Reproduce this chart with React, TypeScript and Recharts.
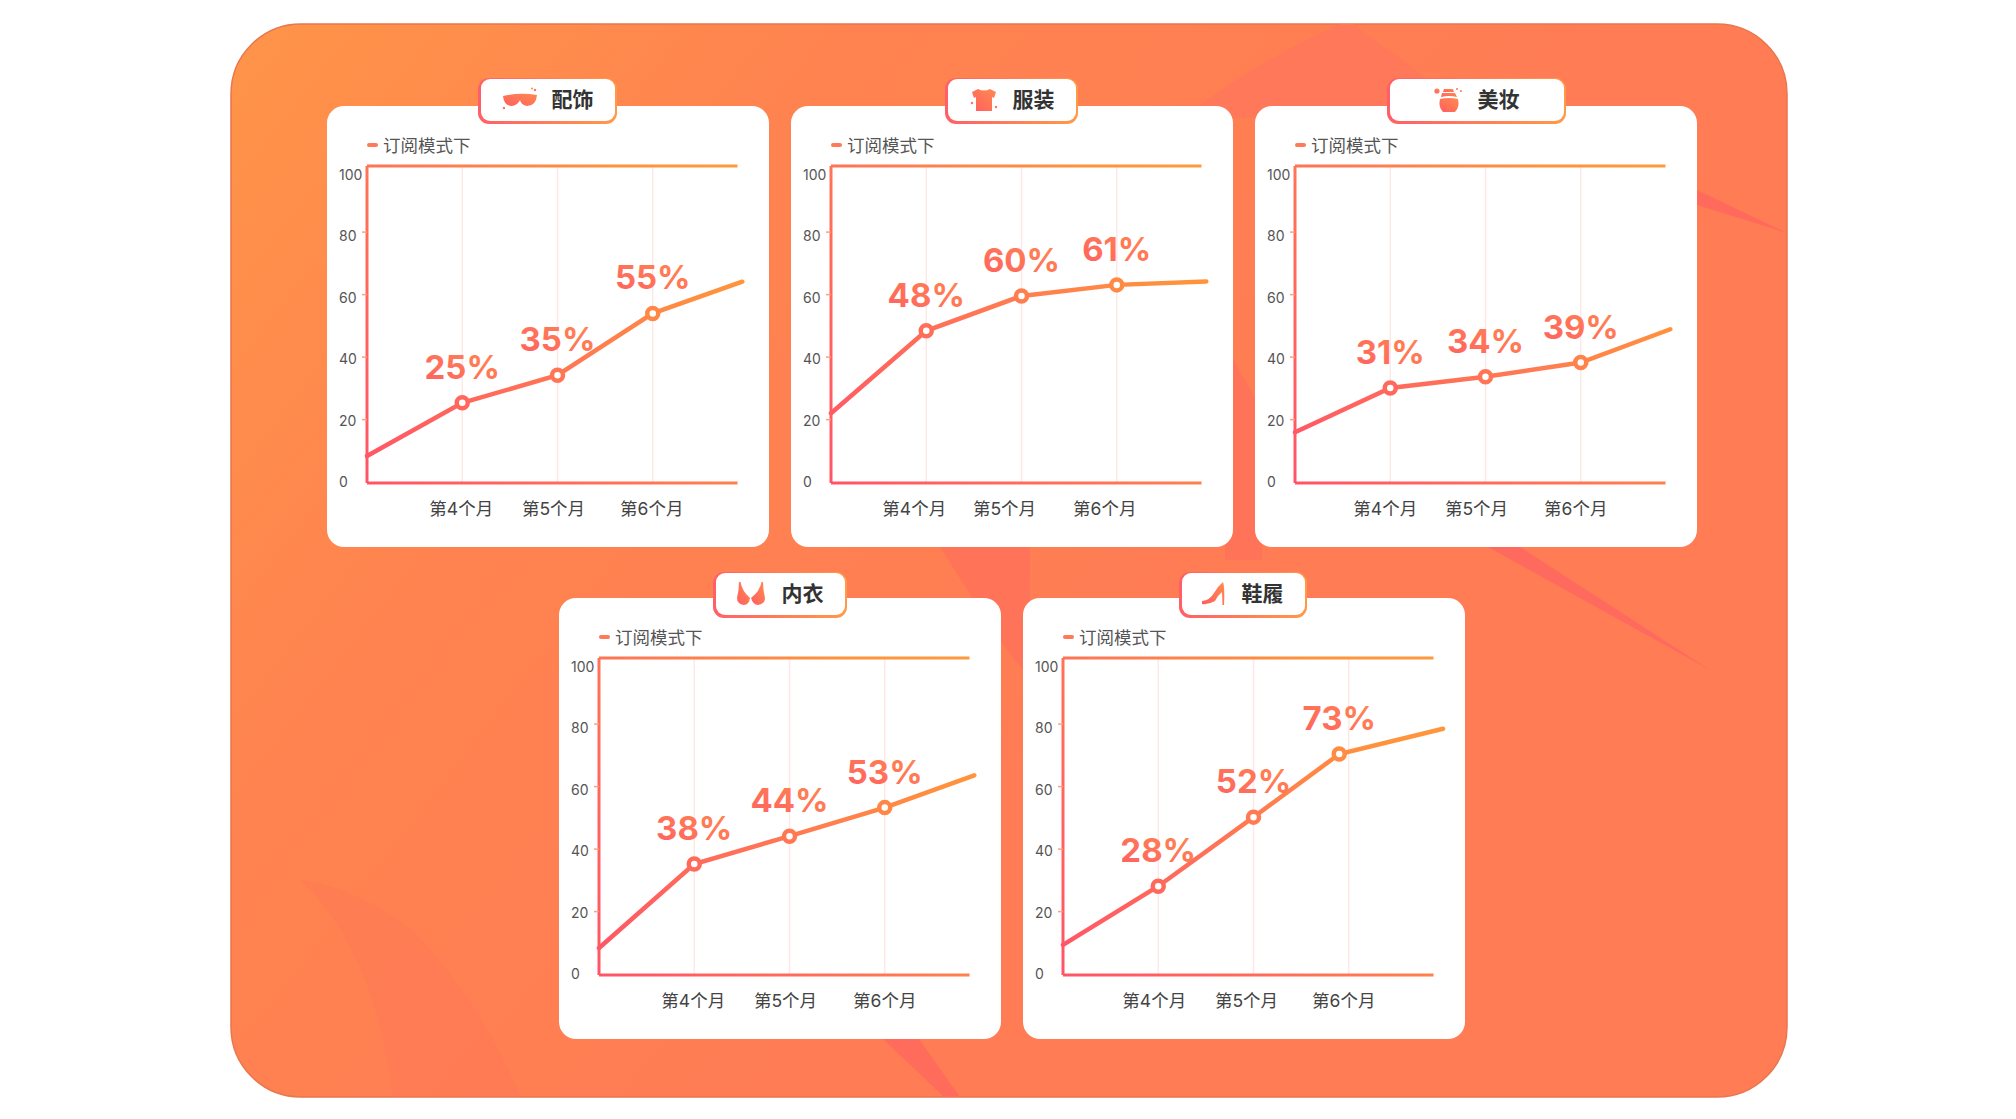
import React from 'react'
import { LineChart, Line, XAxis, YAxis, ReferenceLine, Legend, LabelList } from 'recharts'

const FONT = "Inter, 'Noto Sans CJK SC', sans-serif"
const CJK_FONT = "'Noto Sans CJK SC', sans-serif"

const X_POSITIONS = [0, 1, 2, 3, 3.94]
const SHOES_X_POSITIONS = [0, 1, 2, 2.9, 3.99]
const X_DOMAIN_MAX = 4
const X_TICKS = [1, 2, 3]
const MONTHS = ['第4个月', '第5个月', '第6个月']
const Y_TICKS = [0, 20, 40, 60, 80, 100]
const FRAME_END = 3.89
const SERIES_NAME = '订阅模式下'

const accessoriesValues = [8.5, 25.3, 34, 53.5, 63.5]
const accessoriesLabels = ['25%', '35%', '55%']
const clothingValues = [22, 48, 59, 62.5, 63.6]
const clothingLabels = ['48%', '60%', '61%']
const beautyValues = [16, 30, 33.5, 38, 48.5]
const beautyLabels = ['31%', '34%', '39%']
const underwearValues = [8.5, 35, 43.8, 52.8, 63]
const underwearLabels = ['38%', '44%', '53%']
const shoesValues = [9.5, 28, 49.8, 69.7, 77.7]
const shoesLabels = ['28%', '52%', '73%']

function buildRows(xs: number[], values: number[], labels: string[]) {
  return values.map((v, i) => ({ x: xs[i], value: v, label: labels[i - 1] }))
}

const CARD_W = 442
const CARD_H = 441

function YTick({ x, y, payload }: any) {
  const v = payload.value
  return (
    <g>
      {v > 0 && v < 100 ? (
        <line x1={x + 3} x2={x + 8} y1={y + (v - 20) * 0.045} y2={y + (v - 20) * 0.045} stroke="#ff9f78" strokeWidth={1.5} />
      ) : null}
      <text x={12} y={y + v * 0.1 - 1} dy={5} textAnchor="start" fontSize={14} fontFamily={FONT} fill="#555">{v}</text>
    </g>
  )
}

function makeXTick(shifts: number[]) {
  return function XTick({ x, y, payload, index }: any) {
    return (
      <text x={x + shifts[index]} y={y} dy={24} textAnchor="middle" fontSize={17.5} fontFamily={FONT} fill="#444">
        {MONTHS[payload.value - 1]}
      </text>
    )
  }
}

function LegendBox() {
  return (
    <div style={{ display: 'flex', alignItems: 'center', fontFamily: CJK_FONT, fontSize: 17.5, color: '#555', lineHeight: '24px' }}>
      <span style={{ display: 'inline-block', width: 11, height: 3.5, borderRadius: 2, background: '#ff7a58', marginRight: 5 }} />
      {SERIES_NAME}
    </div>
  )
}

interface PanelProps {
  id: string
  left: number
  top: number
  xs: number[]
  values: number[]
  labels: string[]
  shifts: number[]
}

function Panel({ id, left, top, xs, values, labels, shifts }: PanelProps) {
  const rows = buildRows(xs, values, labels)
  const stroke = `url(#line-${id})`
  return (
    <div style={{ position: 'absolute', left, top, width: CARD_W, height: CARD_H, background: '#fff', borderRadius: 17 }}>
      <LineChart width={CARD_W} height={CARD_H} data={rows} margin={{ top: 60, right: 21, bottom: 34, left: 10 }}>
        <defs>
          <linearGradient id={`line-${id}`} gradientUnits="userSpaceOnUse" x1={40} y1={377} x2={416} y2={60}>
            <stop offset="0" stopColor="#ff5468" />
            <stop offset="0.5" stopColor="#ff7a52" />
            <stop offset="0.8" stopColor="#ff923c" />
            <stop offset="1" stopColor="#ff9a40" />
          </linearGradient>
          <linearGradient id={`text-${id}`} x1="0" y1="1" x2="1" y2="0">
            <stop offset="0" stopColor="#ff5f62" />
            <stop offset="1" stopColor="#ff8a4e" />
          </linearGradient>
        </defs>
        <XAxis type="number" dataKey="x" domain={[0, X_DOMAIN_MAX]} ticks={X_TICKS} height={30} axisLine={false} tickLine={false} tick={makeXTick(shifts)} />
        <YAxis type="number" domain={[0, 100]} ticks={Y_TICKS} width={30} axisLine={{ stroke, strokeWidth: 3 }} tickLine={false} tick={<YTick />} />
        {X_TICKS.map(t => (
          <ReferenceLine key={t} x={t} stroke="#fdeae6" strokeWidth={1.5} />
        ))}
        <ReferenceLine segment={[{ x: 0, y: 100 }, { x: FRAME_END, y: 100 }]} stroke={stroke} strokeWidth={3} />
        <ReferenceLine segment={[{ x: 0, y: 0 }, { x: FRAME_END, y: 0 }]} stroke={stroke} strokeWidth={3} />
        <Legend verticalAlign="middle" content={<LegendBox />} wrapperStyle={{ top: 27, left: 40, width: 'auto' }} />
        <Line
          type="linear"
          dataKey="value"
          name={SERIES_NAME}
          stroke={stroke}
          strokeWidth={4.5}
          strokeLinecap="round"
          isAnimationActive={false}
          activeDot={false}
          dot={(p: any) =>
            p.payload.label ? (
              <circle key={p.index} cx={p.cx} cy={p.cy} r={5.5} fill="#fff" stroke={stroke} strokeWidth={4.5} />
            ) : (
              <g key={p.index} />
            )
          }
        >
          <LabelList
            dataKey="label"
            content={(p: any) =>
              p.value ? (
                <text x={p.x} y={p.y - 24} textAnchor="middle" fill={`url(#text-${id})`} fontSize={33} fontWeight={700} fontFamily={FONT}>
                  {p.value}
                </text>
              ) : null
            }
          />
        </Line>
      </LineChart>
    </div>
  )
}

function IconDefs() {
  return (
    <svg width={0} height={0} style={{ position: 'absolute' }}>
      <defs>
        <linearGradient id="icon-fill" x1="0" y1="1" x2="1" y2="0">
          <stop offset="0" stopColor="#ff5f5f" />
          <stop offset="1" stopColor="#ff8a50" />
        </linearGradient>
      </defs>
    </svg>
  )
}

const ICONS: Record<string, React.ReactNode> = {
  glasses: (
    <g fill="url(#icon-fill)">
      <path d="M1 9 Q18 5 35 8 Q34 19 25 19 Q19 18 18 13 Q16 18 10 19 Q2 19 1 9 Z" />
      <circle cx="33" cy="3" r="1.2" />
      <circle cx="30" cy="1.5" r="0.9" />
      <circle cx="2" cy="21" r="1.2" />
    </g>
  ),
  shirt: (
    <g fill="url(#icon-fill)">
      <path d="M9 2 Q15 5 21 2 L27 5 L25 11 L23 10 L23 24 L7 24 L7 10 L5 11 L3 5 Z" />
      <circle cx="3" cy="16" r="1.2" />
      <circle cx="27" cy="20" r="1.2" />
    </g>
  ),
  perfume: (
    <g fill="url(#icon-fill)">
      <circle cx="3" cy="4" r="2.6" />
      <path d="M10 2 L19 2 L20 5 L9 5 Z" />
      <path d="M8 6 L21 6 L23 10 Q15 8 7 10 Z" />
      <path d="M6 12 Q15 10 24 12 Q26 20 21 25 L9 25 Q4 20 6 12 Z" />
      <circle cx="23" cy="2" r="1" />
      <circle cx="27" cy="4" r="1" />
    </g>
  ),
  bra: (
    <g fill="url(#icon-fill)">
      <path d="M3 1 L4.5 1 Q6 10 14 17 Q13 24 8 24 Q1 23 1 17 Q3 9 3 1 Z" />
      <path d="M27 1 L25.5 1 Q24 10 15 17 Q17 24 22 24 Q29 23 29 17 Q27 9 27 1 Z" />
    </g>
  ),
  heel: (
    <g fill="url(#icon-fill)">
      <path d="M2 20 Q10 19 14 12 Q18 5 23 1 Q25 6 24 24 L22.5 24 L22 11 Q18 14 15 20 Q8 24 2 23 Z" />
    </g>
  ),
}

function Tab({ left, top, width, title, icon, iconX, textX }: { left: number; top: number; width: number; title: string; icon: string; iconX: number; textX: number }) {
  return (
    <div style={{ position: 'absolute', left, top, width, height: 46, borderRadius: 11, background: 'linear-gradient(to right, #ff5f68, #ff9a48)', zIndex: 2 }}>
      <div style={{ position: 'absolute', left: 2.5, right: 2.5, top: 1, bottom: 3, background: '#fff', borderRadius: 9 }}>
        <svg width={38} height={26} viewBox="0 0 38 26" style={{ position: 'absolute', left: iconX, top: 8 }}>{ICONS[icon]}</svg>
        <span style={{ position: 'absolute', left: textX, top: 3, fontFamily: CJK_FONT, fontSize: 21, fontWeight: 700, lineHeight: '32px', color: '#333', whiteSpace: 'nowrap' }}>{title}</span>
      </div>
    </div>
  )
}

function Background() {
  return (
    <svg width={2016} height={1119} style={{ position: 'absolute', left: 0, top: 0 }}>
      <defs>
        <linearGradient id="bg" gradientUnits="userSpaceOnUse" x1={231} y1={24} x2={1100} y2={700}>
          <stop offset="0" stopColor="#ff9448" />
          <stop offset="0.45" stopColor="#ff8350" />
          <stop offset="1" stopColor="#ff7c54" />
        </linearGradient>
        <clipPath id="bg-clip">
          <rect x={231} y={24} width={1556} height={1073} rx={70} />
        </clipPath>
      </defs>
      <rect x={231} y={24} width={1556} height={1073} rx={70} fill="url(#bg)" stroke="#e8764e" strokeWidth={1.5} />
      <g clipPath="url(#bg-clip)">
        <path d="M1180 120 Q1250 65 1340 24 L1353 24 L1470 110 L1180 120 Z" fill="#ff7859" />
        <path d="M1225 345 L1262 410 L1262 560 L1225 560 Z" fill="#ff7358" />
        <path d="M940 547 L1030 547 L1030 680 L1000 640 Z" fill="#ff7358" />
        <path d="M883 1039 L919 1039 L960 1097 L944 1097 Z" fill="#ff6c5c" />
        <path d="M1697 190 L1697 205 L1787 233 Z" fill="#ff6a5c" />
        <path d="M1488 547 L1520 547 L1710 670 Z" fill="#ff6a5e" />
        <path d="M300 880 Q375 950 393 1097 L521 1097 Q470 980 400 920 Q345 885 300 880 Z" fill="#ff7458" opacity={0.3} />
      </g>
    </svg>
  )
}

export default function App() {
  return (
    <div style={{ position: 'absolute', left: 0, top: 0, width: 2016, height: 1119, background: '#fff', overflow: 'hidden' }}>
      <IconDefs />
      <Background />
      <Panel id="a" left={327} top={106} xs={X_POSITIONS} values={accessoriesValues} labels={accessoriesLabels} shifts={[-1, -4, -1]} />
      <Panel id="b" left={791} top={106} xs={X_POSITIONS} values={clothingValues} labels={clothingLabels} shifts={[-12, -17, -12]} />
      <Panel id="c" left={1255} top={106} xs={X_POSITIONS} values={beautyValues} labels={beautyLabels} shifts={[-5, -9, -5]} />
      <Panel id="d" left={559} top={598} xs={X_POSITIONS} values={underwearValues} labels={underwearLabels} shifts={[-1, -4, 0]} />
      <Panel id="e" left={1023} top={598} xs={SHOES_X_POSITIONS} values={shoesValues} labels={shoesLabels} shifts={[-4, -7, -5]} />
      <Tab left={478} top={78} width={139} title="配饰" icon="glasses" iconX={21} textX={71} />
      <Tab left={945} top={78} width={133} title="服装" icon="shirt" iconX={21} textX={65} />
      <Tab left={1387} top={78} width={179} title="美妆" icon="perfume" iconX={44} textX={88} />
      <Tab left={713} top={572} width={134} title="内衣" icon="bra" iconX={20} textX={66} />
      <Tab left={1179} top={572} width={128} title="鞋履" icon="heel" iconX={18} textX={60} />
    </div>
  )
}
